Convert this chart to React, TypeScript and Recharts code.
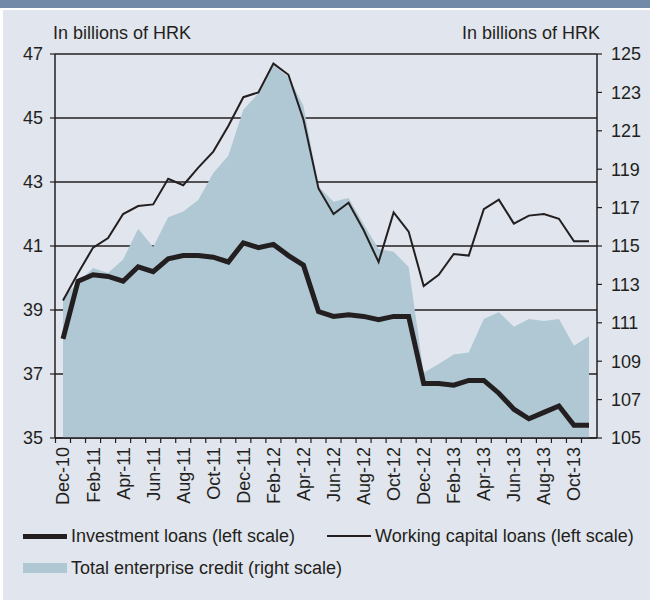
import React from 'react'
import { ComposedChart, Area, Line, XAxis, YAxis, CartesianGrid } from 'recharts'

const months = [
  'Dec-10', 'Jan-11', 'Feb-11', 'Mar-11', 'Apr-11', 'May-11', 'Jun-11', 'Jul-11', 'Aug-11', 'Sep-11', 'Oct-11', 'Nov-11',
  'Dec-11', 'Jan-12', 'Feb-12', 'Mar-12', 'Apr-12', 'May-12', 'Jun-12', 'Jul-12', 'Aug-12', 'Sep-12', 'Oct-12', 'Nov-12',
  'Dec-12', 'Jan-13', 'Feb-13', 'Mar-13', 'Apr-13', 'May-13', 'Jun-13', 'Jul-13', 'Aug-13', 'Sep-13', 'Oct-13', 'Nov-13',
]

const investmentLoans = [
  38.1, 39.9, 40.1, 40.05, 39.9, 40.35, 40.2, 40.6, 40.7, 40.7, 40.65, 40.5,
  41.1, 40.95, 41.05, 40.7, 40.4, 38.95, 38.8, 38.85, 38.8, 38.7, 38.8, 38.8,
  36.7, 36.7, 36.65, 36.8, 36.8, 36.4, 35.9, 35.6, 35.8, 36.0, 35.4, 35.4,
]

const workingCapitalLoans = [
  39.3, 40.15, 40.95, 41.25, 42.0, 42.25, 42.3, 43.1, 42.9, 43.45, 43.95, 44.75,
  45.65, 45.8, 46.7, 46.35, 44.95, 42.8, 42.0, 42.35, 41.5, 40.5, 42.05, 41.45,
  39.75, 40.1, 40.75, 40.7, 42.15, 42.45, 41.7, 41.95, 42.0, 41.85, 41.15, 41.15,
]

const totalCredit = [
  112.3, 113.1, 113.85, 113.6, 114.3, 115.9, 114.95, 116.5, 116.8, 117.4, 118.8, 119.7,
  122.1, 122.95, 124.4, 123.8, 122.3, 118.1, 117.3, 117.5, 116.15, 114.85, 114.7, 113.9,
  108.4, 108.85, 109.35, 109.45, 111.2, 111.55, 110.8, 111.2, 111.1, 111.2, 109.8, 110.3,
]

const leftTicks = [35, 37, 39, 41, 43, 45, 47]
const rightTicks = [105, 107, 109, 111, 113, 115, 117, 119, 121, 123, 125]

const data = months.map((month, i) => ({
  month,
  investment: investmentLoans[i],
  working: workingCapitalLoans[i],
  total: totalCredit[i],
}))

const ink = '#231f20'
const areaColor = '#b0c7d4'
const font = '"Liberation Sans", Arial, sans-serif'

const W = 650
const H = 520
const LEFT_W = 55
const RIGHT_W = 53
const PAD = 8
const halfStep = (W - LEFT_W - RIGHT_W - 2 * PAD) / (months.length - 1) / 2

function MonthTick(props: any) {
  const { x, y, index, payload } = props
  return (
    <g>
      <line x1={x - halfStep} x2={x - halfStep} y1={y} y2={y + 5} stroke={ink} strokeWidth={1.2} />
      {index % 2 === 0 && (
        <text
          x={x}
          y={y + 9}
          transform={`rotate(-90, ${x}, ${y + 9})`}
          textAnchor="end"
          dy="0.36em"
          fontSize={18}
          fill={ink}
          fontFamily={font}
        >
          {payload.value}
        </text>
      )}
    </g>
  )
}

export default function App() {
  return (
    <div style={{ position: 'absolute', left: 0, top: 0, width: 650, height: 605, background: '#fff', fontFamily: font, color: ink }}>
      <div style={{ position: 'absolute', left: 0, top: 0, width: 650, height: 8, background: '#7289a8' }} />
      <div style={{ position: 'absolute', left: 3, top: 10, width: 647, height: 590, background: '#e1e5ed' }} />
      <div style={{ position: 'absolute', left: 53, top: 22, fontSize: 18, lineHeight: '22px' }}>In billions of HRK</div>
      <div style={{ position: 'absolute', right: 50, top: 22, fontSize: 18, lineHeight: '22px' }}>In billions of HRK</div>
      <div style={{ position: 'absolute', left: 0, top: 0 }}>
        <ComposedChart width={W} height={H} data={data} margin={{ top: 54, right: 0, bottom: 0, left: 0 }}>
          <CartesianGrid yAxisId="left" vertical={false} stroke={ink} strokeWidth={1.5} />
          <XAxis
            dataKey="month"
            interval={0}
            height={82}
            padding={{ left: PAD, right: PAD }}
            tickLine={false}
            tickSize={0}
            tickMargin={0}
            axisLine={{ stroke: ink, strokeWidth: 1.5 }}
            tick={<MonthTick />}
          />
          <YAxis
            yAxisId="left"
            width={LEFT_W}
            domain={[35, 47]}
            ticks={leftTicks}
            interval={0}
            tickSize={5}
            tickMargin={7}
            axisLine={{ stroke: ink, strokeWidth: 1.5 }}
            tickLine={{ stroke: ink, strokeWidth: 1.2 }}
            tick={{ fontSize: 18, fill: ink, fontFamily: font }}
          />
          <YAxis
            yAxisId="right"
            orientation="right"
            width={RIGHT_W}
            domain={[105, 125]}
            ticks={rightTicks}
            interval={0}
            tickSize={5}
            tickMargin={9}
            axisLine={{ stroke: ink, strokeWidth: 1.5 }}
            tickLine={{ stroke: ink, strokeWidth: 1.2 }}
            tick={{ fontSize: 18, fill: ink, fontFamily: font, textAnchor: 'start' }}
          />
          <Area
            yAxisId="right"
            type="linear"
            dataKey="total"
            stroke="none"
            fill={areaColor}
            fillOpacity={1}
            isAnimationActive={false}
          />
          <Line
            yAxisId="left"
            type="linear"
            dataKey="working"
            stroke={ink}
            strokeWidth={2}
            dot={false}
            activeDot={false}
            isAnimationActive={false}
          />
          <Line
            yAxisId="left"
            type="linear"
            dataKey="investment"
            stroke={ink}
            strokeWidth={5}
            dot={false}
            activeDot={false}
            isAnimationActive={false}
          />
        </ComposedChart>
      </div>
      <div style={{ position: 'absolute', left: 23, top: 525, display: 'flex', alignItems: 'center', fontSize: 18, lineHeight: '22px' }}>
        <span style={{ display: 'inline-block', width: 44, height: 5, background: ink, marginRight: 4 }} />
        <span>Investment loans (left scale)</span>
      </div>
      <div style={{ position: 'absolute', left: 327, top: 525, display: 'flex', alignItems: 'center', fontSize: 18, lineHeight: '22px' }}>
        <span style={{ display: 'inline-block', width: 44, height: 2, background: ink, marginRight: 4 }} />
        <span>Working capital loans (left scale)</span>
      </div>
      <div style={{ position: 'absolute', left: 23, top: 557, display: 'flex', alignItems: 'center', fontSize: 18, lineHeight: '22px' }}>
        <span style={{ display: 'inline-block', width: 44, height: 10, background: areaColor, marginRight: 4 }} />
        <span>Total enterprise credit (right scale)</span>
      </div>
    </div>
  )
}
